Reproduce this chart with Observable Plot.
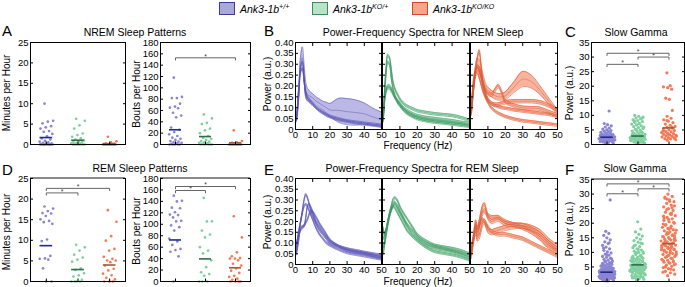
<!DOCTYPE html>
<html><head><meta charset="utf-8">
<script src="https://cdn.jsdelivr.net/npm/d3@7"></script>
<script src="https://cdn.jsdelivr.net/npm/@observablehq/plot@0.6"></script>
<style>
body{margin:0;background:#fff;font-family:"Liberation Sans",Arial,sans-serif;color:#000;}
#root{position:relative;width:685px;height:287px;overflow:hidden;background:#fff;}
.t{position:absolute;line-height:1;white-space:nowrap;}
</style></head><body><div id="root"></div><script>
// ---------------- DATA ----------------
const genoBase = "Ank3-1b";
const genoSup = ["+/+", "KO/+", "KO/KO"];

// NREM minutes per hour
const nremMinWT = [10.0,5.8,5.6,5.2,4.5,4.2,3.9,3.3,3.1,2.6,2.0,1.5,1.2,0.9,0.7,0.5,0.4,0.3,0.2,0.1,0,0,0,0,0,0,0,0,0,0];
const nremMinHet = [6.3,5.8,4.7,3.9,2.7,2.3,1.9,1.5,1.2,1.0,0.8,0.6,0.5,0.4,0.3,0.2,0.1,0,0,0,0,0,0,0,0];
const nremMinKO = [1.9,0.8,0.5,0.3,0.2,0.1,0.1,0,0,0,0,0,0,0,0,0,0,0,0,0];
const nremMinMeans = [1.7, 1.05, 0.2];
// NREM bouts per hour
const nremBoutWT = [118,84,82,82,72,67,65,64,56,51,48,30,26,22,18,15,12,10,8,6,5,4,3,2,1,0,0,0,0,0];
const nremBoutHet = [53,46,38,36,28,25,20,15,12,10,8,6,5,4,3,2,1,0,0,0,0,0,0];
const nremBoutKO = [25,6,4,3,2,2,1,1,0,0,0,0,0,0,0,0,0,0];
const nremBoutMeans = [26, 14, 3];
// REM minutes per hour
const remMinWT = [18.2,17.7,17.1,16.6,16.5,15.9,15.1,14.7,14.4,14.0,10.2,9.8,6.2,5.6,5.5,5.3,3.2,0,0];
const remMinHet = [8.9,8.3,7.5,6.5,5.8,5.3,4.8,3.2,2.8,2.0,1.5,1.2,0.4,0,0,0,0];
const remMinKO = [17.3,14.5,11.0,9.9,7.9,7.5,6.0,5.5,5.1,5.1,4.7,3.9,3.1,2.7,1.9,1.5,0.9,0.5,0,0,0];
const remMinMeans = [8.7, 2.9, 4.0];
// REM bouts per hour
const remBoutWT = [150,141,140,129,128,121,117,116,112,106,105,98,95,89,75,70,64,57,55,52,44,0];
const remBoutHet = [146,105,105,89,82,77,60,54,49,37,25,16,13,10,0,0,0];
const remBoutKO = [114,77,51,44,41,40,40,37,31,28,23,19,15,10,8,5,3,0,0,0,0];
const remBoutMeans = [72.6, 39.5, 24];
// NREM slow gamma power
const nremGamWT = [0.3,0.5,0.7,0.9,1.0,1.1,1.2,1.3,1.4,1.5,1.6,1.7,1.8,1.9,2.0,2.0,2.1,2.2,2.3,2.4,2.5,2.5,2.6,2.7,2.8,2.9,3.0,3.1,3.2,3.3,3.4,3.5,3.6,3.8,4.0,4.2,4.4,4.6,4.8,5.0,5.3,5.6,6.0,6.4,6.8,7.2,11.5,0.6,1.0,1.4,1.8,2.2,2.6,3.0,3.5,0.8,1.6,2.4,1.2,2.9];
const nremGamHet = [0.3,0.5,0.7,0.9,1.0,1.2,1.3,1.5,1.6,1.8,1.9,2.0,2.2,2.3,2.4,2.5,2.7,2.8,2.9,3.0,3.2,3.3,3.5,3.7,3.9,4.1,4.3,4.6,4.9,5.2,5.5,5.8,6.1,6.4,6.7,7.0,7.3,7.6,7.9,8.2,8.5,8.8,9.1,9.4,9.7,10.0,0.8,1.1,1.4,1.7,2.1,2.6,3.1,3.6,4.4,5.0,6.0,7.1,8.0,9.0,1.2,2.0,2.9];
const nremGamKO = [1.5,1.7,1.9,2.0,2.2,2.4,2.6,2.8,3.0,3.1,3.3,3.5,3.7,3.9,4.1,4.3,4.5,4.8,5.0,5.3,5.6,5.9,6.2,6.6,7.0,7.5,8.0,8.5,9.0,9.7,11.7,15.5,15.9,19.0,19.5,19.8,20.2,24.6,2.3,3.4,4.6,6.0,8.2,2.9];
const nremGamMeans = [2.5, 2.9, 5.7];
// REM slow gamma power
const remGamWT = [0.3,0.5,0.6,0.8,0.9,1.0,1.1,1.2,1.3,1.4,1.5,1.5,1.6,1.7,1.8,1.9,2.0,2.0,2.1,2.2,2.3,2.4,2.5,2.5,2.6,2.7,2.8,2.9,3.0,3.0,3.1,3.2,3.3,3.4,3.5,3.6,3.7,3.8,3.9,4.0,4.1,4.2,4.3,4.5,4.6,4.8,5.0,5.1,5.3,5.5,5.7,5.9,6.0,6.2,6.5,6.8,7.0,7.3,7.6,8.0,8.3,8.6,9.0,9.4,9.8,10.2,10.7,11.2,11.8,12.4,13.0,13.6,14.3,15.0,15.8,16.5,17.2,28.0,0.4,0.7,1.0,1.2,1.4,1.6,1.8,2.1,2.3,2.6,2.8,3.1,3.4,3.7,4.0,4.4,4.9,5.4,6.1,6.9,7.8,0.2,1.1,1.9,2.4,3.3,4.7,5.6,6.4,9.2,11.5,13.3,0.6,1.3,2.2,2.9,3.6,4.3];
const remGamHet = [0.5,0.8,1.0,1.3,1.5,1.8,2.0,2.2,2.4,2.6,2.8,3.0,3.1,3.3,3.5,3.6,3.8,4.0,4.1,4.3,4.5,4.6,4.8,5.0,5.1,5.3,5.5,5.6,5.8,6.0,6.2,6.4,6.6,6.8,7.0,7.2,7.5,7.8,8.0,8.3,8.6,9.0,9.3,9.7,10.0,10.4,10.8,11.2,11.6,12.0,12.5,13.0,13.5,14.0,14.5,15.0,15.6,16.2,17.0,18.0,20.5,1.2,1.7,2.1,2.5,2.9,3.2,3.4,3.7,3.9,4.2,4.4,4.7,4.9,5.2,5.4,5.7,5.9,6.3,6.7,7.1,7.6,8.1,8.8,9.5,10.2,11.0,12.2,13.2,0.9,2.3,3.6,4.5,5.3,6.1,6.9,3.0,4.0,5.0,6.5,7.4,8.4,9.9];
const remGamKO = [2.0,2.5,3.0,3.5,4.0,4.4,4.8,5.2,5.6,6.0,6.3,6.6,7.0,7.3,7.6,8.0,8.3,8.6,9.0,9.3,9.6,10.0,10.2,10.5,10.8,11.0,11.3,11.6,11.9,12.2,12.5,12.8,13.0,13.3,13.6,13.9,14.2,14.5,14.8,15.1,15.4,15.8,16.2,16.6,17.0,17.4,17.8,18.2,18.6,19.0,19.5,20.0,20.5,21.0,21.5,22.0,22.6,23.2,23.8,24.4,25.0,25.6,26.2,26.8,27.4,28.0,28.6,29.2,30.0,3.2,4.2,5.0,5.8,6.5,7.2,7.9,8.5,9.1,9.8,10.4,11.1,11.7,12.3,12.9,13.5,14.1,14.7,15.3,16.0,16.8,17.6,18.4,19.3,20.3,21.3,22.4,23.5,24.7,26.0,27.5,29.0,6.8,8.8,10.9,12.0,13.8,15.6,18.0,21.8,25.3,28.3,9.4,11.4,12.6,14.4,16.4,19.7,23.0];
const remGamMeans = [3.2, 5.7, 13.0];

// significance brackets: [groupA, groupB, height in data units]
const nremBoutSig = [[1, 3, 153]];
const remMinSig = [[1, 3, 22.6], [1, 2, 21.5]];
const remBoutSig = [[1, 3, 166], [1, 2, 159]];
const nremGamSig = [[1, 3, 31.3], [2, 3, 30.0], [1, 2, 27.5]];
const remGamSig = [[1, 3, 33.5], [2, 3, 31.8], [1, 2, 30.1]];

// power spectra (frequency in Hz)
const freqs = [0.5,1,2,3,4,5,6,7,8,9,10,12,14,16,18,20,25,30,35,40,45,50];
const nremSpecWT = [
 [0.05,0.08,0.18,0.30,0.33,0.26,0.18,0.16,0.155,0.15,0.145,0.13,0.12,0.11,0.10,0.09,0.088,0.082,0.078,0.072,0.058,0.045],
 [0.04,0.07,0.17,0.29,0.31,0.24,0.16,0.14,0.13,0.12,0.115,0.10,0.09,0.08,0.07,0.062,0.05,0.04,0.035,0.03,0.025,0.02],
 [0.05,0.09,0.20,0.27,0.28,0.22,0.17,0.15,0.14,0.13,0.12,0.10,0.085,0.075,0.065,0.058,0.045,0.038,0.03,0.025,0.02,0.015]];
const nremSemWT = [
 [0.01,0.02,0.03,0.04,0.05,0.04,0.035,0.03,0.025,0.02,0.02,0.02,0.02,0.02,0.025,0.03,0.055,0.06,0.058,0.05,0.04,0.035], 0.005, 0.005];
const nremSpecHet = [
 [0.06,0.15,0.28,0.34,0.33,0.28,0.22,0.19,0.17,0.155,0.14,0.12,0.108,0.1,0.093,0.086,0.078,0.072,0.068,0.064,0.055,0.042],
 [0.05,0.13,0.25,0.31,0.30,0.24,0.19,0.16,0.14,0.13,0.12,0.10,0.088,0.078,0.07,0.064,0.055,0.05,0.045,0.04,0.033,0.028],
 [0.05,0.12,0.18,0.20,0.20,0.19,0.17,0.15,0.135,0.12,0.11,0.09,0.075,0.065,0.057,0.05,0.04,0.034,0.03,0.025,0.02,0.015],
 [0.04,0.11,0.17,0.19,0.19,0.18,0.165,0.15,0.14,0.125,0.115,0.095,0.08,0.07,0.062,0.056,0.046,0.04,0.035,0.03,0.025,0.018]];
const nremSemHet = [0.006, 0.006, 0.006, 0.006];
const nremSpecKO = [
 [0.10,0.15,0.22,0.28,0.30,0.29,0.27,0.24,0.21,0.19,0.18,0.165,0.155,0.15,0.15,0.155,0.195,0.232,0.22,0.18,0.13,0.08],
 [0.08,0.12,0.20,0.28,0.33,0.36,0.30,0.22,0.19,0.175,0.165,0.16,0.18,0.20,0.17,0.13,0.11,0.10,0.098,0.095,0.08,0.065],
 [0.10,0.16,0.24,0.27,0.28,0.28,0.26,0.22,0.19,0.16,0.14,0.12,0.115,0.115,0.12,0.125,0.13,0.13,0.13,0.125,0.11,0.09],
 [0.07,0.12,0.20,0.25,0.26,0.24,0.21,0.18,0.16,0.14,0.125,0.10,0.085,0.075,0.067,0.06,0.048,0.04,0.035,0.03,0.025,0.02],
 [0.09,0.14,0.22,0.27,0.29,0.27,0.24,0.20,0.17,0.15,0.135,0.12,0.11,0.105,0.10,0.098,0.09,0.085,0.08,0.075,0.07,0.06]];
const nremSemKO = [
 [0.01,0.01,0.015,0.02,0.03,0.03,0.03,0.02,0.02,0.015,0.015,0.015,0.015,0.015,0.015,0.018,0.025,0.035,0.03,0.02,0.015,0.012], 0.008, 0.008, 0.006, 0.006];
const remSpecWT = [
 [0.08,0.11,0.16,0.20,0.25,0.30,0.325,0.31,0.28,0.25,0.227,0.19,0.16,0.14,0.12,0.10,0.085,0.073,0.065,0.057,0.05,0.042],
 [0.05,0.07,0.12,0.17,0.176,0.18,0.22,0.27,0.28,0.265,0.245,0.20,0.175,0.15,0.13,0.11,0.085,0.07,0.06,0.052,0.044,0.035],
 [0.10,0.11,0.14,0.16,0.17,0.18,0.195,0.21,0.235,0.25,0.245,0.22,0.19,0.165,0.14,0.115,0.085,0.065,0.057,0.05,0.04,0.03],
 [0.06,0.09,0.15,0.20,0.24,0.27,0.28,0.27,0.25,0.23,0.21,0.17,0.14,0.12,0.10,0.09,0.07,0.055,0.047,0.04,0.032,0.025]];
const remSemWT = [0.005, 0.005, 0.005, 0.005];
const remSpecHet = [
 [0.17,0.14,0.16,0.20,0.24,0.27,0.30,0.31,0.305,0.29,0.27,0.24,0.215,0.19,0.165,0.14,0.11,0.09,0.082,0.075,0.065,0.05],
 [0.08,0.10,0.15,0.19,0.23,0.26,0.28,0.29,0.28,0.27,0.25,0.22,0.19,0.17,0.15,0.13,0.10,0.085,0.075,0.065,0.055,0.04],
 [0.05,0.08,0.13,0.18,0.22,0.25,0.27,0.28,0.27,0.255,0.24,0.21,0.18,0.155,0.135,0.12,0.09,0.075,0.067,0.06,0.048,0.03],
 [0.12,0.13,0.16,0.20,0.23,0.255,0.27,0.265,0.25,0.235,0.22,0.19,0.16,0.14,0.125,0.11,0.08,0.06,0.052,0.045,0.035,0.02]];
const remSemHet = [0.005, 0.005, 0.005, 0.005];
const remSpecKO = [
 [0.08,0.10,0.15,0.20,0.17,0.20,0.24,0.27,0.28,0.255,0.23,0.22,0.22,0.22,0.21,0.20,0.185,0.17,0.15,0.12,0.08,0.06],
 [0.05,0.08,0.13,0.17,0.14,0.17,0.21,0.24,0.25,0.24,0.22,0.20,0.205,0.21,0.20,0.19,0.185,0.18,0.165,0.14,0.10,0.07],
 [0.04,0.07,0.12,0.15,0.12,0.13,0.16,0.19,0.20,0.18,0.16,0.15,0.155,0.16,0.165,0.17,0.178,0.18,0.17,0.15,0.11,0.08],
 [0.06,0.09,0.14,0.18,0.16,0.18,0.20,0.21,0.20,0.19,0.175,0.155,0.145,0.14,0.14,0.14,0.13,0.12,0.10,0.08,0.06,0.04]];
const remSemKO = [0.008, 0.01, 0.012, 0.008];

// ---------------- STYLE ----------------
const pointColors = ["#8a85d3", "#7fd09e", "#f47a57"];
const meanColors = ["#1f2a8c", "#2f6c48", "#9a5e3c"];
const bandFill = ["#aaa6de", "#9bd7b0", "#f6a083"];
const bandEdge = ["#6b67c2", "#4fa872", "#e8653f"];
const meanLine = ["#4a46a8", "#3a8a5a", "#c9553a"];
const swatchFill = ["#aaa7dc", "#b6e4c6", "#f8a688"];
const swatchStroke = ["#3b3b9e", "#3d8a5a", "#d9432a"];
const FONT = "Liberation Sans, Arial, sans-serif";

const root = document.getElementById("root");
function place(el, left, top) {
  el.style.position = "absolute"; el.style.left = left + "px"; el.style.top = top + "px";
  root.appendChild(el);
}
function addText(html, x, y, size, opt = {}) {
  const d = document.createElement("div");
  d.className = "t"; d.innerHTML = html; d.style.fontSize = size + "px";
  d.style.left = x + "px"; d.style.top = y + "px";
  let tr = "";
  if (opt.center) tr += "translateX(-50%) ";
  if (opt.rotate) tr = "translate(-50%,-50%) rotate(-90deg)";
  d.style.transform = tr;
  if (opt.italic) d.style.fontStyle = "italic";
  root.appendChild(d);
  return d;
}
const baseStyle = {background: "transparent", overflow: "visible", fontFamily: FONT, fontSize: "9.5px", color: "#000"};

function jitter(vals, half, dense, span) {
  let counts = vals.map(v => dense ? vals.filter(x => Math.abs(x - v) <= span).length : 1);
  const maxc = d3.max(counts);
  return vals.map((v, i) => {
    const u = ((i * 0.6180339887 + 0.37) % 1) - 0.5;
    const w = dense ? 0.3 + 0.7 * Math.sqrt(counts[i] / maxc) : 1;
    return u * 2 * half * w;
  });
}

function stripPanel({groups, means, ymax, ystep, sig, fx, fy, fw, fh, dense, greyTop}) {
  const ml = 30, mr = 6, mt = 6, mb = 6;
  const marks = [];
  groups.forEach((vals, g) => {
    const offs = jitter(vals, dense ? 0.27 : 0.22, dense, ymax / 35);
    const pts = vals.map((v, i) => ({x: g + 1 + offs[i], v}));
    marks.push(Plot.dot(pts, {x: "x", y: "v", r: dense ? 1.6 : 1.35, fill: pointColors[g], stroke: null}));
  });
  means.forEach((m, g) => {
    marks.push(Plot.ruleY([m], {x1: g + 1 - 0.2, x2: g + 1 + 0.2, stroke: meanColors[g], strokeWidth: 1.6}));
  });
  const drop = ymax * 0.022;
  const brRows = [];
  sig.forEach(([a, b, h], k) => {
    brRows.push({k, x: a, y: h - drop}, {k, x: a, y: h}, {k, x: b, y: h}, {k, x: b, y: h - drop});
  });
  marks.push(Plot.line(brRows, {x: "x", y: "y", z: "k", stroke: "#555", strokeWidth: 0.9}));
  marks.push(Plot.text(sig.map(([a, b, h]) => ({x: (a + b) / 2, y: h})), {x: "x", y: "y", text: () => "*", fontSize: 7, dy: -1.5, fill: "#444"}));
  const ticks = d3.range(0, ymax + 1e-9, ystep);
  marks.push(Plot.frame({stroke: "#000", strokeWidth: 1}));
  if (greyTop) marks.push(Plot.ruleY([ymax], {stroke: "#8a8a8a", strokeWidth: 2, dy: -0.5}));
  marks.push(Plot.axisY({ticks, tickSize: -3, tickPadding: 5, label: null, tickFormat: d => d}));
  marks.push(Plot.axisY({anchor: "right", ticks, tickSize: -3, tickPadding: 0, label: null, tickFormat: () => ""}));
  marks.push(Plot.axisX({ticks: [1, 2, 3], tickSize: -2.5, tickPadding: 0, label: null, tickFormat: () => ""}));
  const svg = Plot.plot({
    width: ml + fw + mr, height: mt + fh + mb,
    marginLeft: ml, marginRight: mr, marginTop: mt, marginBottom: mb,
    x: {domain: [0.5, 3.5]}, y: {domain: [0, ymax]},
    style: baseStyle, marks
  });
  place(svg, fx - ml, fy - mt);
}

function specPanel({curves, sems, ci, fx, fy, fw, fh, showY, xticks}) {
  const ml = 42, mr = 6, mt = 6, mb = 18;
  const rows = [];
  curves.forEach((c, k) => {
    const s = sems[k];
    c.forEach((m, i) => {
      const e = Array.isArray(s) ? s[i] : s;
      rows.push({k, f: freqs[i], m, lo: m - e, hi: m + e});
    });
  });
  const yt = d3.range(0, 0.4001, 0.05);
  const cv = "catmull-rom";
  const marks = [
    Plot.areaY(rows, {x: "f", y1: "lo", y2: "hi", z: "k", fill: bandFill[ci], fillOpacity: 0.8, curve: cv, clip: true}),
    Plot.line(rows, {x: "f", y: "lo", z: "k", stroke: bandEdge[ci], strokeWidth: 0.7, curve: cv, clip: true}),
    Plot.line(rows, {x: "f", y: "hi", z: "k", stroke: bandEdge[ci], strokeWidth: 0.7, curve: cv, clip: true}),
    Plot.line(rows, {x: "f", y: "m", z: "k", stroke: meanLine[ci], strokeWidth: 0.5, strokeOpacity: 0.8, curve: cv, clip: true}),
    Plot.frame({stroke: "#000", strokeWidth: 1}),
    Plot.axisX({ticks: xticks, tickSize: -3, tickPadding: 5, label: null, tickFormat: d => d}),
    Plot.axisX({anchor: "top", ticks: xticks, tickSize: -3, tickPadding: 0, label: null, tickFormat: () => ""}),
    Plot.axisY({ticks: yt, tickSize: -3, tickPadding: 5, label: null,
      tickFormat: showY ? (d => d === 0 ? "0" : d.toFixed(2)) : (() => "")}),
    Plot.axisY({anchor: "right", ticks: yt, tickSize: -3, tickPadding: 0, label: null, tickFormat: () => ""})
  ];
  const svg = Plot.plot({
    width: ml + fw + mr, height: mt + fh + mb,
    marginLeft: ml, marginRight: mr, marginTop: mt, marginBottom: mb,
    x: {domain: [0, 50]}, y: {domain: [0, 0.4]},
    style: baseStyle, marks
  });
  place(svg, fx - ml, fy - mt);
}

// ---------------- LEGEND ----------------
const legX = [219, 312, 412];
legX.forEach((x, i) => {
  const s = document.createElement("div");
  s.style.cssText = `position:absolute;left:${x}px;top:2px;width:14px;height:11px;background:${swatchFill[i]};border:1.5px solid ${swatchStroke[i]};`;
  root.appendChild(s);
  addText(`${genoBase}<sup style="font-size:7px;vertical-align:4px">${genoSup[i]}</sup>`, x + 21, 3, 10.5, {italic: true});
});

// ---------------- PANEL LETTERS & TITLES ----------------
addText("A", 2, 23, 15); addText("B", 264, 23, 15); addText("C", 565, 24, 15);
addText("D", 2, 162, 15); addText("E", 264, 162, 15); addText("F", 565, 162, 15);
addText("NREM Sleep Patterns", 135, 27, 10.5, {center: true});
addText("Power-Frequency Spectra for NREM Sleep", 423, 27, 10.5, {center: true});
addText("Slow Gamma", 636, 27, 10.5, {center: true});
addText("REM Sleep Patterns", 140, 163, 10.5, {center: true});
addText("Power-Frequency Spectra for REM Sleep", 422, 163, 10.5, {center: true});
addText("Slow Gamma", 635, 163, 10.5, {center: true});
addText("Minutes per Hour", 7, 93, 10, {rotate: true});
addText("Bouts per Hour", 137, 94, 10, {rotate: true});
addText("Power (a.u.)", 268, 84, 10, {rotate: true});
addText("Power (a.u.)", 570, 93, 10, {rotate: true});
addText("Minutes per Hour", 7, 232, 10, {rotate: true});
addText("Bouts per Hour", 137, 231, 10, {rotate: true});
addText("Power (a.u.)", 268, 222, 10, {rotate: true});
addText("Power (a.u.)", 570, 229, 10, {rotate: true});
addText("Frequency (Hz)", 418, 141, 10, {center: true});
addText("Frequency (Hz)", 418, 276.5, 10, {center: true});

// ---------------- PANELS ----------------
stripPanel({groups: [nremMinWT, nremMinHet, nremMinKO], means: nremMinMeans, ymax: 25, ystep: 5, sig: [], fx: 30, fy: 42, fw: 95, fh: 102});
stripPanel({groups: [nremBoutWT, nremBoutHet, nremBoutKO], means: nremBoutMeans, ymax: 180, ystep: 20, sig: nremBoutSig, fx: 160, fy: 42, fw: 90, fh: 102});
stripPanel({groups: [nremGamWT, nremGamHet, nremGamKO], means: nremGamMeans, ymax: 35, ystep: 5, sig: nremGamSig, fx: 591, fy: 42, fw: 93, fh: 102, dense: true});
stripPanel({groups: [remMinWT, remMinHet, remMinKO], means: remMinMeans, ymax: 25, ystep: 5, sig: remMinSig, fx: 30, fy: 178, fw: 95, fh: 103, greyTop: true});
stripPanel({groups: [remBoutWT, remBoutHet, remBoutKO], means: remBoutMeans, ymax: 180, ystep: 20, sig: remBoutSig, fx: 160, fy: 178, fw: 90, fh: 103, greyTop: true});
stripPanel({groups: [remGamWT, remGamHet, remGamKO], means: remGamMeans, ymax: 35, ystep: 5, sig: remGamSig, fx: 591, fy: 179, fw: 93, fh: 102, dense: true, greyTop: true});

const x0 = [0, 10, 20, 30, 40, 50], x1 = [10, 20, 30, 40, 50];
specPanel({curves: nremSpecWT, sems: nremSemWT, ci: 0, fx: 295, fy: 42, fw: 86, fh: 87, showY: true, xticks: x0});
specPanel({curves: nremSpecHet, sems: nremSemHet, ci: 1, fx: 382, fy: 42, fw: 87, fh: 87, showY: false, xticks: x1});
specPanel({curves: nremSpecKO, sems: nremSemKO, ci: 2, fx: 470, fy: 42, fw: 87, fh: 87, showY: false, xticks: x1});
specPanel({curves: remSpecWT, sems: remSemWT, ci: 0, fx: 295, fy: 178, fw: 86, fh: 86, showY: true, xticks: x0});
specPanel({curves: remSpecHet, sems: remSemHet, ci: 1, fx: 382, fy: 178, fw: 87, fh: 86, showY: false, xticks: x1});
specPanel({curves: remSpecKO, sems: remSemKO, ci: 2, fx: 470, fy: 178, fw: 87, fh: 86, showY: false, xticks: x1});
</script></body></html>
